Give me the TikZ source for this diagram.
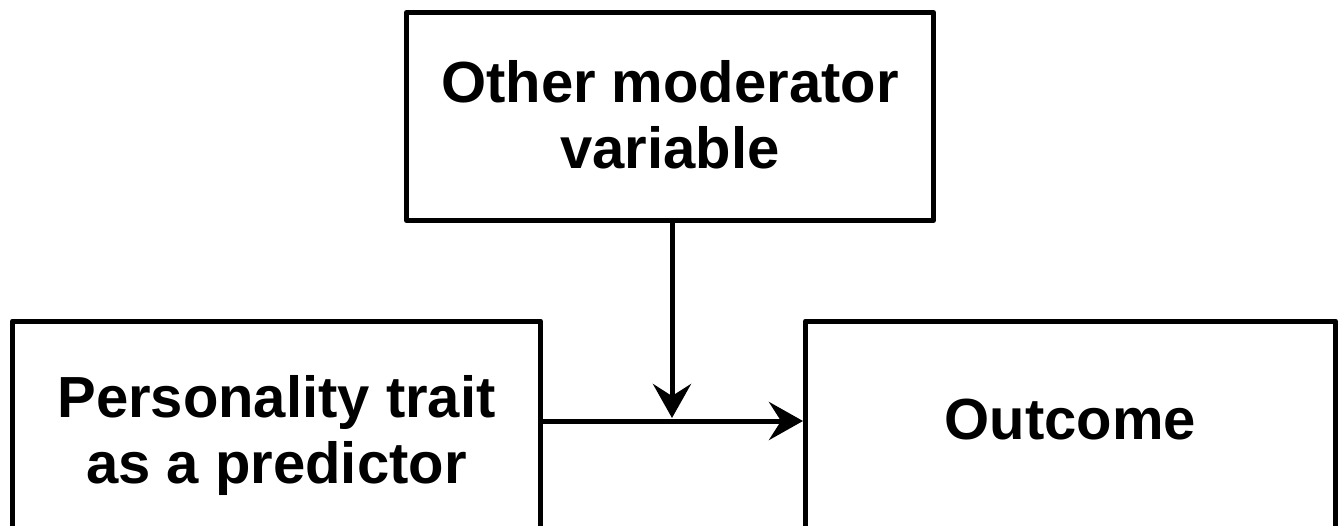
\documentclass[tikz,border=0pt]{standalone}
\usepackage{fontspec}
\setmainfont{Liberation Sans}
\usetikzlibrary{arrows.meta}
\tikzset{
  box/.style={draw, line width=2.5pt, line join=round, inner sep=0pt, fill=none},
  lbl/.style={font=\fontsize{29}{33}\selectfont\bfseries, align=center, inner sep=0pt},
  conn/.style={line width=2.5pt, -{Stealth[length=17pt,width=19pt,inset=6pt]}}
}
\begin{document}
\begin{tikzpicture}[x=0.5pt,y=-0.5pt]
\useasboundingbox (0,0) rectangle (1344,525);
\clip (0,0) rectangle (1344,525);
\node[box, minimum width=263.5pt, minimum height=104pt] (mod) at (670,116.5) {};
\node[lbl] (modtxt) at (670,115) {Other moderator\\variable};
\node[box, minimum width=264pt, minimum height=121pt, anchor=north] (pred) at (276.5,318.5) {};
\node[lbl] (predtxt) at (276.5,435) {Personality trait\\as a predictor};
\node[box, minimum width=265pt, minimum height=121pt, anchor=north] (out) at (1070.5,318.5) {};
\node[lbl] (outtxt) at (1070.5,420) {Outcome};
\coordinate (m) at (672,421);
\draw[conn] (pred.east |- m) -- (out.west |- m);
\draw[conn] (mod.south -| m) -- ([yshift=1.5pt]m);
\end{tikzpicture}
\end{document}
